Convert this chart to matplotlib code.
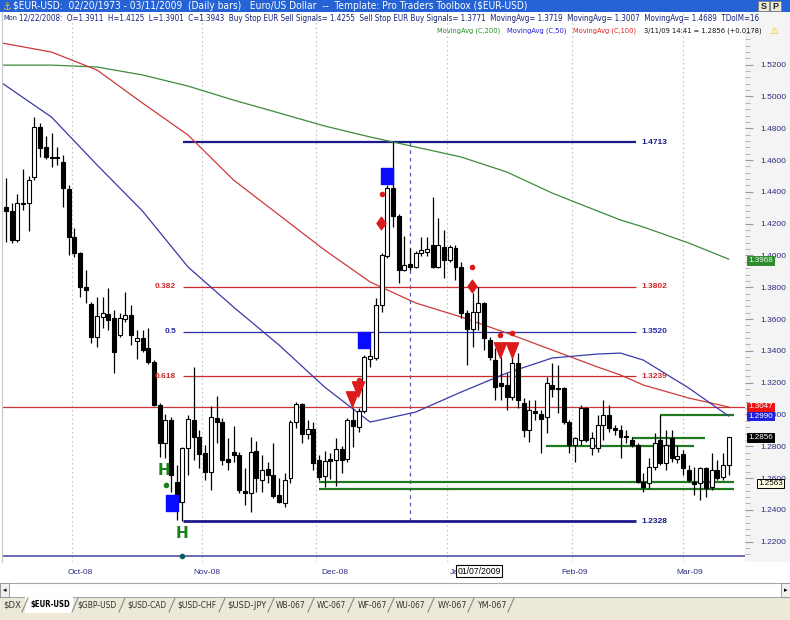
import numpy as np
import matplotlib
matplotlib.use("Agg")
import matplotlib.pyplot as plt
from matplotlib.patches import Rectangle
from matplotlib.lines import Line2D
from matplotlib.path import Path
from matplotlib.ticker import FixedLocator, FormatStrFormatter
from matplotlib.font_manager import FontProperties
import matplotlib.transforms as mtransforms
from matplotlib import font_manager

plt.rcParams['font.family'] = ['Liberation Sans', 'DejaVu Sans']


def _is_condensed(f):
    st = f.stretch
    if isinstance(st, str):
        if 'condensed' in st.lower() or 'narrow' in st.lower():
            return True
    else:
        try:
            if int(st) < 500:
                return True
        except Exception:
            pass
    return 'Narrow' in f.name or 'Condensed' in f.name


def _pick_condensed(bold):
    pref = ['Liberation Sans Narrow', 'Arial Narrow', 'DejaVu Sans', 'DejaVu Sans Condensed',
            'Roboto Condensed', 'Roboto', 'Open Sans Condensed', 'Open Sans', 'Noto Sans',
            'Noto Sans Condensed']
    cands = [f for f in font_manager.fontManager.ttflist if _is_condensed(f)
             and str(f.style) == 'normal']
    best, score = None, None
    for f in cands:
        try:
            w = int(f.weight)
        except Exception:
            w = 700 if 'bold' in str(f.weight).lower() else 400
        target = 700 if bold else 400
        sc = (pref.index(f.name) if f.name in pref else 50) * 1000 + abs(w - target)
        if score is None or sc < score:
            best, score = f, sc
    return best.fname if best is not None else None


COND_REG = _pick_condensed(False)
COND_BOLD = _pick_condensed(True)

# ---------------- data (daily bars, 15 Sep 2008 .. 11 Mar 2009) ----------------
opens = [1.4304, 1.4279, 1.4097, 1.4323, 1.4329, 1.4493, 1.4807, 1.4682, 1.4619, 1.4619,
         1.4587, 1.4418, 1.4116, 1.4015, 1.3801, 1.3694, 1.3487, 1.3612, 1.3631, 1.3606,
         1.3499, 1.3600, 1.3625, 1.3461, 1.3480, 1.3417, 1.3329, 1.3059, 1.2820, 1.2964,
         1.2575, 1.2449, 1.2788, 1.2964, 1.2858, 1.2757, 1.2637, 1.2977, 1.2952, 1.2719,
         1.2763, 1.2744, 1.2518, 1.2505, 1.2770, 1.2587, 1.2656, 1.2619, 1.2493, 1.2442,
         1.2600, 1.2952, 1.3065, 1.2876, 1.2908, 1.2713, 1.2612, 1.2719, 1.2713, 1.2782,
         1.2719, 1.2964, 1.2920, 1.3021, 1.3348, 1.3354, 1.3688, 1.3996, 1.4424, 1.4248,
         1.3911, 1.3946, 1.3927, 1.4015, 1.4021, 1.4065, 1.3927, 1.4053, 1.3971, 1.4046,
         1.3927, 1.3638, 1.3537, 1.3644, 1.3700, 1.3468, 1.3342, 1.3197, 1.3185, 1.3109,
         1.3323, 1.3071, 1.2902, 1.3021, 1.3002, 1.2983, 1.3185, 1.3166, 1.3166, 1.2952,
         1.2807, 1.2839, 1.3040, 1.2788, 1.2788, 1.2933, 1.2996, 1.2914, 1.2902, 1.2864,
         1.2839, 1.2807, 1.2575, 1.2568, 1.2669, 1.2839, 1.2694, 1.2851, 1.2719, 1.2751,
         1.2650, 1.2575, 1.2568, 1.2663, 1.2543, 1.2650, 1.2606, 1.2681]
highs = [1.4487, 1.4329, 1.4386, 1.4543, 1.4499, 1.4870, 1.4833, 1.4751, 1.4770, 1.4682,
         1.4631, 1.4443, 1.4172, 1.4021, 1.3908, 1.3707, 1.3738, 1.3738, 1.3795, 1.3656,
         1.3638, 1.3770, 1.3688, 1.3531, 1.3531, 1.3543, 1.3342, 1.3071, 1.3002, 1.2983,
         1.2681, 1.2795, 1.2996, 1.3298, 1.2902, 1.2807, 1.3053, 1.3115, 1.2977, 1.2851,
         1.2927, 1.2763, 1.2663, 1.2858, 1.2832, 1.2744, 1.2700, 1.2820, 1.2600, 1.2631,
         1.2964, 1.3078, 1.3071, 1.2964, 1.2952, 1.2744, 1.2770, 1.2757, 1.2851, 1.2801,
         1.2977, 1.3040, 1.3040, 1.3373, 1.3417, 1.3732, 1.4015, 1.4443, 1.4713, 1.4260,
         1.4125, 1.4046, 1.4028, 1.4116, 1.4116, 1.4367, 1.4235, 1.4160, 1.4065, 1.4065,
         1.3958, 1.3656, 1.3763, 1.3801, 1.3707, 1.3487, 1.3417, 1.3361, 1.3260, 1.3405,
         1.3386, 1.3103, 1.3090, 1.3090, 1.3027, 1.3235, 1.3323, 1.3310, 1.3172, 1.2964,
         1.2858, 1.3059, 1.3046, 1.2889, 1.2996, 1.3090, 1.3059, 1.2933, 1.2933, 1.2902,
         1.2858, 1.2820, 1.2631, 1.2725, 1.2883, 1.2996, 1.2902, 1.2902, 1.2807, 1.2776,
         1.2681, 1.2669, 1.2669, 1.2669, 1.2757, 1.2713, 1.2757, 1.2858]
lows = [1.4084, 1.4078, 1.4084, 1.4285, 1.4153, 1.4474, 1.4619, 1.4606, 1.4556, 1.4568,
        1.4304, 1.4002, 1.3990, 1.3738, 1.3700, 1.3449, 1.3424, 1.3543, 1.3531, 1.3260,
        1.3487, 1.3581, 1.3436, 1.3348, 1.3392, 1.3317, 1.3053, 1.2732, 1.2725, 1.2512,
        1.2336, 1.2328, 1.2619, 1.2713, 1.2663, 1.2587, 1.2524, 1.2820, 1.2681, 1.2650,
        1.2700, 1.2505, 1.2430, 1.2386, 1.2512, 1.2512, 1.2568, 1.2474, 1.2442, 1.2417,
        1.2568, 1.2914, 1.2820, 1.2845, 1.2650, 1.2587, 1.2543, 1.2593, 1.2549, 1.2631,
        1.2700, 1.2795, 1.2889, 1.3009, 1.3298, 1.3342, 1.3644, 1.3983, 1.4178, 1.3826,
        1.3901, 1.3908, 1.3921, 1.3996, 1.3996, 1.3921, 1.3921, 1.3858, 1.3958, 1.3845,
        1.3606, 1.3310, 1.3424, 1.3531, 1.3405, 1.3342, 1.3090, 1.3090, 1.3027, 1.3090,
        1.3040, 1.2858, 1.2826, 1.2964, 1.2757, 1.2883, 1.3109, 1.3009, 1.2939, 1.2757,
        1.2700, 1.2807, 1.2826, 1.2744, 1.2763, 1.2839, 1.2889, 1.2870, 1.2725, 1.2820,
        1.2795, 1.2568, 1.2512, 1.2537, 1.2650, 1.2681, 1.2650, 1.2700, 1.2694, 1.2619,
        1.2575, 1.2493, 1.2461, 1.2480, 1.2524, 1.2587, 1.2587, 1.2619]
closes = [1.4279, 1.4097, 1.4329, 1.4329, 1.4474, 1.4807, 1.4675, 1.4619, 1.4612, 1.4612,
          1.4424, 1.4116, 1.4015, 1.3801, 1.3782, 1.3487, 1.3619, 1.3638, 1.3594, 1.3392,
          1.3606, 1.3625, 1.3499, 1.3480, 1.3405, 1.3329, 1.3059, 1.2820, 1.2964, 1.2619,
          1.2449, 1.2788, 1.2971, 1.2858, 1.2751, 1.2637, 1.2983, 1.2952, 1.2713, 1.2700,
          1.2744, 1.2524, 1.2505, 1.2763, 1.2600, 1.2650, 1.2619, 1.2486, 1.2449, 1.2587,
          1.2952, 1.3065, 1.2876, 1.2908, 1.2694, 1.2606, 1.2707, 1.2707, 1.2782, 1.2713,
          1.2964, 1.2927, 1.3021, 1.3361, 1.3367, 1.3688, 1.4002, 1.4424, 1.4248, 1.3908,
          1.3943, 1.3927, 1.4015, 1.4034, 1.4040, 1.3927, 1.4065, 1.3971, 1.4053, 1.3927,
          1.3638, 1.3537, 1.3644, 1.3700, 1.3480, 1.3361, 1.3172, 1.3178, 1.3109, 1.3323,
          1.3090, 1.2902, 1.3027, 1.3009, 1.2971, 1.3197, 1.3160, 1.3160, 1.2952, 1.2807,
          1.2851, 1.3040, 1.2839, 1.2851, 1.2933, 1.2996, 1.2914, 1.2902, 1.2858, 1.2858,
          1.2807, 1.2575, 1.2543, 1.2669, 1.2820, 1.2694, 1.2807, 1.2725, 1.2738, 1.2663,
          1.2587, 1.2562, 1.2663, 1.2537, 1.2650, 1.2600, 1.2681, 1.2856]

# moving averages read at sample bars
ma_idx = [-0.7, 8, 16, 24, 32, 40, 48, 56, 64, 72, 80, 88, 96, 104, 108, 112, 120, 127]
ma200 = [1.5197, 1.5197, 1.5185, 1.5135, 1.5065, 1.4977, 1.4896, 1.4814, 1.4745, 1.4682,
         1.4619, 1.4525, 1.4392, 1.4279, 1.4223, 1.4179, 1.4078, 1.3977]
ma100 = [1.5336, 1.5279, 1.5166, 1.4958, 1.4757, 1.4474, 1.4254, 1.4034, 1.3833, 1.3701,
         1.3613, 1.3512, 1.3405, 1.3298, 1.3248, 1.3185, 1.3103, 1.3047]
ma50 = [1.5084, 1.4870, 1.4569, 1.4279, 1.3927, 1.3675, 1.3436, 1.3172, 1.2952, 1.3015,
        1.3141, 1.3260, 1.3355, 1.3380, 1.3386, 1.3342, 1.3166, 1.2990]

# Fibonacci retracement
fib_levels = [1.4713, 1.3802, 1.3520, 1.3239, 1.2328]
fib_ratios = ['', '0.382', '0.5', '0.618', '']
fib_from, fib_to = 31.1, 110.7
ref_level = 1.3047          # full-width red line
base_level = 1.2109         # bottom line

# support lines (green): start bar, end bar, price
sup_start = [55.0, 55.0, 94.9, 110.0, 114.9]
sup_end = [127.9, 127.9, 120.9, 122.8, 127.9]
sup_price = [1.2578, 1.2530, 1.2801, 1.2851, 1.2996]

# signals
sq_idx = [29.1, 62.9, 67.0]
sq_val = [1.2443, 1.3468, 1.4499]
dia_idx = [65.9, 81.9]
dia_val = [1.4206, 1.3807]
dot_idx = [66.0, 81.9, 62.1, 86.9, 88.9]
dot_val = [1.4386, 1.3927, 1.3216, 1.3499, 1.3512]
tri_idx = [60.8, 61.8, 86.9, 88.9]
tri_val = [1.3100, 1.3160, 1.3405, 1.3405]
h_idx = [27.8, 31.0]
h_val = [1.2650, 1.2254]
hdot_idx = [28.1]
hdot_val = [1.2556]
cursor_bar = 71.0

month_bounds = [11.6, 34.45, 54.5, 77.5, 99.5, 119.0]
month_labels = ['Oct-08', 'Nov-08', 'Dec-08', 'Jan-09', 'Feb-09', 'Mar-09']
month_label_pos = [13.0, 35.3, 57.8, 80.3, 100.0, 120.2]

axis_box_vals = [1.3968, 1.3047, 1.2990, 1.2856, 1.2563]
axis_box_bg = ['#2e8b2e', '#ee1111', '#1f1fdd', '#000000', '#ffffe6']
axis_box_fg = ['#e8ffe8', 'white', 'white', 'white', 'black']

tabs = ['$DX', '$EUR-USD', '$GBP-USD', '$USD-CAD', '$USD-CHF', '$USD-JPY',
        'WB-067', 'WC-067', 'WF-067', 'WU-067', 'WY-067', 'YM-067']

# ---------------- figure ----------------
W, H = 790, 620
fig = plt.figure(figsize=(W / 100, H / 100), dpi=100, facecolor='#ece9d8')
renderer = fig.canvas.get_renderer()


def FX(px):
    return px / W


def FY(py):
    return 1 - py / H


def esc(s):
    return s.replace('$', r'\$')


def frect(x0, y0, x1, y1, z=-1, **kw):
    r = Rectangle((FX(x0), FY(y1)), FX(x1) - FX(x0), FY(y0) - FY(y1),
                  transform=fig.transFigure, zorder=z, **kw)
    fig.patches.append(r)
    return r


def ftext(px, py, s, width=None, size=7.0, bold=False, narrow=False, **kw):
    if narrow and (COND_BOLD if bold else COND_REG):
        fp = FontProperties(fname=COND_BOLD if bold else COND_REG, size=size)
        t = fig.text(FX(px), FY(py), esc(s), fontproperties=fp, va='center', **kw)
    else:
        t = fig.text(FX(px), FY(py), esc(s), fontsize=size, va='center',
                     fontweight='bold' if bold else 'normal', **kw)
    if width is not None:
        w = t.get_window_extent(renderer).width
        if w > width:
            t.set_fontsize(size * width / w)
    return t


# backgrounds
frect(0, 12, 790, 583, facecolor='white', edgecolor='none', z=-2)
frect(745, 12, 790, 562, facecolor='#f4f4f4', edgecolor='none', z=-2)

ax = fig.add_axes([FX(2), FY(562), FX(745) - FX(2), FY(12) - FY(562)])
ax.set_facecolor('white')
ax.set_xlim(-0.703, 129.88)
ax.set_ylim(1.2072, 1.5531)
for s in ax.spines.values():
    s.set_visible(False)
ax.spines['left'].set_visible(True)
ax.spines['left'].set_color('#c8c8c8')

# month grid
for b in month_bounds:
    ax.axvline(b, color='#c4c4c4', lw=0.8, ls=(0, (1.5, 2.5)), zorder=1)

# cursor line
ax.vlines(cursor_bar, fib_levels[-1], fib_levels[0], color='#5a5ab0', lw=0.9,
          ls=(0, (3, 3)), zorder=2)

# fib lines
fib_colors = ['#1a1a8c', '#cc2a2a', '#2a2aa8', '#cc2a2a', '#1a1a8c']
fib_lw = [1.6, 0.9, 0.9, 0.9, 2.0]
for lev, name, col, lw in zip(fib_levels, fib_ratios, fib_colors, fib_lw):
    ax.hlines(lev, fib_from, fib_to, color=col, lw=lw, zorder=2)
    ax.text(fib_to + 0.9, lev, '%.4f' % lev, color=col, fontsize=6.0,
            fontweight='bold', ha='left', va='center', zorder=6)
    if name:
        ax.text(fib_from - 1.2, lev, name, color=col, fontsize=6.0,
                fontweight='bold', ha='right', va='center', zorder=6)

ax.axhline(ref_level, color='#cc3333', lw=0.9, zorder=2)
ax.axhline(base_level, color='#6a6ab8', lw=1.4, zorder=2)

# support lines
for a, b, p in zip(sup_start, sup_end, sup_price):
    ax.hlines(p, a, b, color='#1f7a1f', lw=1.6, zorder=2)

# moving averages
ax.plot(ma_idx, ma200, color='#3c8c3c', lw=0.9, zorder=2)
ax.plot(ma_idx, ma100, color='#cc3b3b', lw=0.9, zorder=2)
ax.plot(ma_idx, ma50, color='#3a3aa8', lw=0.9, zorder=2)

# candles
o = np.array(opens)
hh = np.array(highs)
ll = np.array(lows)
c = np.array(closes)
idx = np.arange(len(o))
up = c >= o
ax.vlines(idx, ll, hh, color='black', lw=0.9, zorder=3)
lo = np.minimum(o, c)
bh = np.maximum(np.abs(c - o), 0.0004)
ax.bar(idx[up], bh[up], bottom=lo[up], width=0.7, color='white',
       edgecolor='black', lw=0.8, zorder=4)
ax.bar(idx[~up], bh[~up], bottom=lo[~up], width=0.7, color='black',
       edgecolor='black', lw=0.8, zorder=4)

# signal markers
rect_m = Path([(-0.37, -0.5), (0.37, -0.5), (0.37, 0.5), (-0.37, 0.5), (-0.37, -0.5)], closed=True)
dia_m = Path([(0, 0.5), (0.36, 0), (0, -0.5), (-0.36, 0), (0, 0.5)], closed=True)
tri_m = Path([(-0.4, 0.5), (0.4, 0.5), (0, -0.5), (-0.4, 0.5)], closed=True)
ax.plot(sq_idx, sq_val, ls='none', marker=rect_m, ms=11, color='#0a0aff', mec='#0a0aff', zorder=7)
ax.plot(dia_idx, dia_val, ls='none', marker=dia_m, ms=9, color='#dd1a1a', mec='#dd1a1a', zorder=7)
ax.plot(dot_idx, dot_val, ls='none', marker='o', ms=3, color='#dd1a1a', mec='#dd1a1a', zorder=7)
ax.plot(tri_idx, tri_val, ls='none', marker=tri_m, ms=11, color='#dd1a1a', mec='#dd1a1a', zorder=7)
for xi, yi in zip(h_idx, h_val):
    ax.text(xi, yi, 'H', color='#1a801a', fontsize=11, fontweight='bold',
            ha='center', va='center', family='DejaVu Sans', zorder=7)
ax.plot(hdot_idx, hdot_val, ls='none', marker='o', ms=3, color='#1a801a', zorder=7)
ax.plot([h_idx[1]], [base_level], ls='none', marker='o', ms=3, color='#0b5a5a', zorder=7)

# axes ticks
ax.yaxis.tick_right()
ax.set_yticks(np.round(np.arange(1.22, 1.5201, 0.02), 4))
ax.yaxis.set_major_formatter(FormatStrFormatter('%.4f'))
ax.yaxis.set_minor_locator(FixedLocator(np.arange(1.212, 1.54, 0.004)))
ax.tick_params(axis='y', which='major', length=6, width=0.8, color='#9a9a9a',
               pad=5, labelsize=6.0, labelcolor='#2b2b80', direction='out')
ax.tick_params(axis='y', which='minor', length=3.5, width=0.6, color='#aaaaaa', direction='out')
ax.set_xticks(month_label_pos)
ax.set_xticklabels(month_labels)
ax.tick_params(axis='x', length=0, pad=5, labelsize=6.0, labelcolor='#2b2b80')

# value boxes on the price axis
btr = mtransforms.blended_transform_factory(ax.transAxes, ax.transData)
for v, bg, fg in zip(axis_box_vals, axis_box_bg, axis_box_fg):
    xpos = 1.0175 if fg == 'black' else 1.0045
    ax.text(xpos, v, '%.4f' % v, transform=btr, color=fg, fontsize=5.8,
            ha='left', va='center', zorder=8, clip_on=False,
            bbox=dict(boxstyle='square,pad=0.12', fc=bg,
                      ec='black' if fg == 'black' else bg, lw=0.7))

# date box on the x axis
ftext(479, 571, '01/07/2009', size=6.2, ha='center', color='black',
      bbox=dict(boxstyle='square,pad=0.15', fc='white', ec='black', lw=0.8))

# ---------------- header ----------------
frect(0, 0, 790, 12, facecolor='#2462d6', edgecolor='none', z=1)
ftext(2, 6.5, '\u2693', size=7, color='#f0c020', ha='left', family='DejaVu Sans')
ftext(13, 6.3, '$EUR-USD:  02/20/1973 - 03/11/2009  (Daily bars)   Euro/US Dollar  --  '
      'Template: Pro Traders Toolbox ($EUR-USD)', width=512, size=8, narrow=True,
      color='white', ha='left')
for xb, ch in [(758, 'S'), (770, 'P')]:
    frect(xb, 1, xb + 11, 11, facecolor='#ece9d8', edgecolor='#7f7f7f', lw=0.6, z=2)
    ftext(xb + 5.5, 6.3, ch, size=6.5, color='#202020', ha='center', bold=True)

ftext(3, 18.5, 'Mon', width=14, size=6.5, narrow=True, color='#1c2a80', ha='left')
ftext(19, 18.5, '12/22/2008:  O=1.3911  H=1.4125  L=1.3901  C=1.3943  '
      'Buy Stop EUR Sell Signals= 1.4255  Sell Stop EUR Buy Signals= 1.3771  '
      'MovingAvg= 1.3719  MovingAvg= 1.3007  MovingAvg= 1.4689  TDoIM=16',
      width=739, size=8.5, narrow=True, color='#16237a', ha='left')

ftext(437, 31, 'MovingAvg (C,200)', width=63, size=7.5, narrow=True,
      color='#1f8a1f', ha='left')
ftext(507, 31, 'MovingAvg (C,50)', width=59, size=7.5, narrow=True,
      color='#1f1fcc', ha='left')
ftext(573, 31, 'MovingAvg (C,100)', width=63, size=7.5, narrow=True,
      color='#e01f1f', ha='left')
ftext(644, 31, '3/11/09 14:41 = 1.2856 (+0.0178)', width=116, size=7.5,
      narrow=True, color='#101010', ha='left')
ftext(774, 31, '\u26a0', size=7, color='#e8c400', ha='center', family='DejaVu Sans')

# ---------------- scrollbar & tabs ----------------
frect(0, 583, 790, 597, facecolor='white', edgecolor='#a8a8a8', lw=0.8, z=1)
frect(0, 583, 9, 597, facecolor='#f0f0f0', edgecolor='#909090', lw=0.6, z=2)
frect(781, 583, 790, 597, facecolor='#f0f0f0', edgecolor='#909090', lw=0.6, z=2)
ftext(4.5, 590, '\u25c2', size=5, ha='center', family='DejaVu Sans')
ftext(785.5, 590, '\u25b8', size=5, ha='center', family='DejaVu Sans')

tab_centers = [12, 50, 97, 147, 197, 247, 291, 331, 372, 411, 452, 492]
tab_widths = [18, 40, 40, 40, 40, 40, 30, 30, 30, 30, 30, 30]
tab_seps = [25, 75, 122, 172, 222, 271, 311, 351, 391, 431, 471, 511]
frect(25, 597, 73, 613, facecolor='white', edgecolor='none', z=1)
for name, xc, tw in zip(tabs, tab_centers, tab_widths):
    ftext(xc, 605, name, width=tw, size=6.8, ha='center', narrow=True,
          bold=(name == '$EUR-USD'),
          color='black' if name == '$EUR-USD' else '#333333')
for xs in tab_seps:
    fig.lines.append(Line2D([FX(xs - 3), FX(xs + 3)], [FY(612), FY(598)],
                            transform=fig.transFigure, color='#8a8a8a', lw=0.8))

fig.savefig('out.png', dpi=100, facecolor=fig.get_facecolor())
